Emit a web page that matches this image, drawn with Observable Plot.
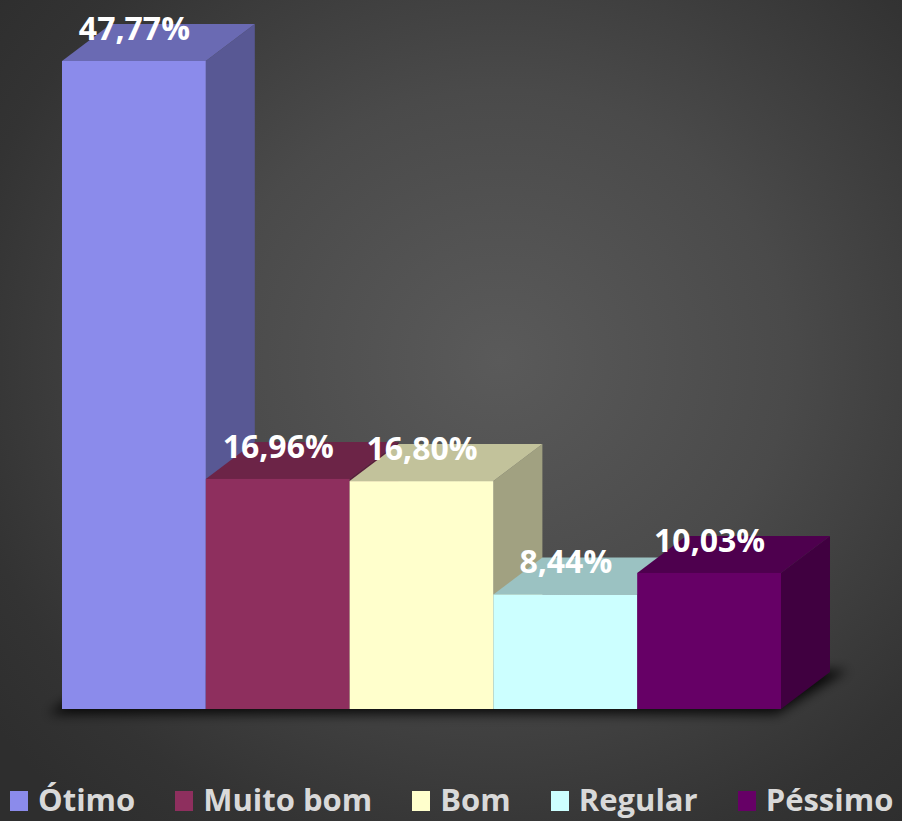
<!DOCTYPE html>
<html>
<head>
<meta charset="utf-8">
<script src="https://cdn.jsdelivr.net/npm/d3@7"></script>
<script src="https://cdn.jsdelivr.net/npm/@observablehq/plot@0.6"></script>
<style>
  html, body { margin: 0; padding: 0; }
  body {
    width: 902px; height: 821px; overflow: hidden;
    background: radial-gradient(ellipse 640px 600px at 500px 360px, #5a5a5a 0%, #4a4a4a 45%, #333333 85%, #2e2e2e 100%);
    font-family: "Open Sans", sans-serif;
  }
  #chart svg { display: block; background: transparent; }
  #legend {
    height: 61px; box-sizing: border-box; padding-top: 22px; padding-left: 10px;
    line-height: 34px; white-space: nowrap;
    font-family: "Open Sans", sans-serif; font-weight: 700; font-size: 31px; color: #d9d9d9;
  }
  #legend .item { display: inline-block; margin-right: 40px; }
  #legend .item:last-child { margin-right: 0; }
  #legend .sw { display: inline-block; width: 18px; height: 20px; vertical-align: baseline; margin-right: 10px; }
</style>
</head>
<body>
<div id="chart"></div>
<div id="legend"></div>
<script>
// ---- data ----
const categories = ["Ótimo", "Muito bom", "Bom", "Regular", "Péssimo"];
const values = [47.77, 16.96, 16.80, 8.44, 10.03];
const labels = ["47,77%", "16,96%", "16,80%", "8,44%", "10,03%"];
const colors = ["#8b8beb", "#8e2f5e", "#ffffcc", "#ccffff", "#660066"];

const data = categories.map((c, i) => ({category: c, value: values[i], label: labels[i]}));

// ---- style / geometry ----
const W = 902, H = 760;
const depthX = 49, depthY = -37;
const shade = (c, k) => { const r = d3.rgb(c); return d3.rgb(r.r * k, r.g * k, r.b * k).formatHex(); };

const plot = Plot.plot({
  width: W, height: H,
  marginLeft: 62, marginRight: 121, marginTop: 61, marginBottom: 51,
  style: {background: "transparent", overflow: "visible"},
  x: {domain: categories, padding: 0, round: false, axis: null},
  y: {domain: [0, d3.max(values)], axis: null},
  color: {domain: categories, range: colors},
  marks: [
    Plot.barY(data, {x: "category", y: "value", fill: "category", inset: 0}),
    Plot.text(data, {x: "category", y: "value", text: "label", dy: -32,
      fill: "white", fontSize: 32, fontWeight: 700, fontFamily: "Open Sans"})
  ]
});

document.getElementById("chart").appendChild(plot);

// ---- 3D faces from Plot's own scales ----
const sx = plot.scale("x"), sy = plot.scale("y");
const xs = sx.apply ? (v => sx.apply(v)) :
  d3.scaleBand().domain(sx.domain).range(sx.range).padding(0);
const ys = sy.apply ? (v => sy.apply(v)) :
  d3.scaleLinear().domain(sy.domain).range(sy.range);
const bw = sx.bandwidth != null ? sx.bandwidth : (sx.range[1] - sx.range[0]) / categories.length;

const svg = d3.select(plot.tagName.toLowerCase() === "svg" ? plot : plot.querySelector("svg"));
const barG = svg.select("g[aria-label='bar']").node();
const ns = "http://www.w3.org/2000/svg";
const g3d = document.createElementNS(ns, "g");
svg.node().insertBefore(g3d, barG);
const g = d3.select(g3d);

// floor shadow
const defs = svg.append("defs");
defs.append("filter").attr("id", "blur").attr("x", "-20%").attr("y", "-50%").attr("width", "140%").attr("height", "200%")
  .append("feGaussianBlur").attr("stdDeviation", 6);
const x0 = xs(categories[0]), x1 = xs(categories[categories.length - 1]) + bw, yb = ys(0);
g.append("path")
  .attr("d", `M${x0 - 14},${yb + 5} L${x1 - 4},${yb + 5} L${x1 + depthX + 18},${yb + depthY - 2} L${x0 + depthX},${yb + depthY - 2} Z`)
  .attr("fill", "#000").attr("fill-opacity", 0.85).attr("filter", "url(#blur)");

data.forEach((d, i) => {
  const l = xs(d.category), r = l + bw, t = ys(d.value), b = ys(0);
  // side face
  g.append("path")
    .attr("d", `M${r},${b} L${r},${t} L${r + depthX},${t + depthY} L${r + depthX},${b + depthY} Z`)
    .attr("fill", shade(colors[i], 0.63));
  // top face
  g.append("path")
    .attr("d", `M${l},${t} L${r},${t} L${r + depthX},${t + depthY} L${l + depthX},${t + depthY} Z`)
    .attr("fill", shade(colors[i], 0.76));
});

// ---- legend ----
const legend = d3.select("#legend");
categories.forEach((c, i) => {
  const it = legend.append("span").attr("class", "item");
  it.append("span").attr("class", "sw").style("background", colors[i]);
  it.append("span").text(c);
});
</script>
</body>
</html>
